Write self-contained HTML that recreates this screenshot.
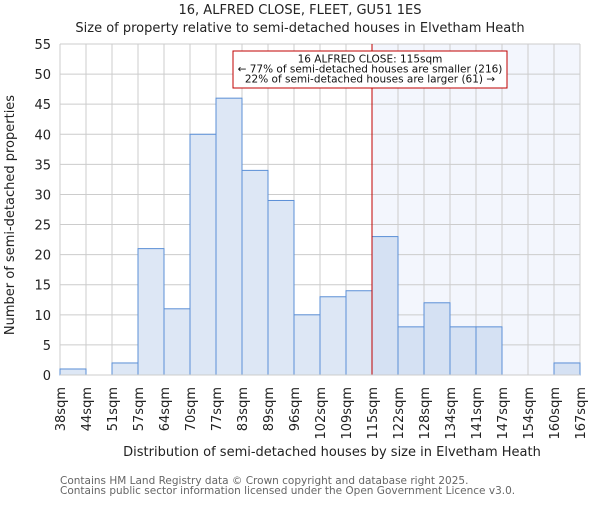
<!DOCTYPE html>
<html><head><meta charset="utf-8"><style>
body{margin:0;background:#fff;}
svg{font-family:"DejaVu Sans","Liberation Sans",sans-serif;}
</style></head><body>
<svg id="c" width="600" height="500" xmlns="http://www.w3.org/2000/svg"></svg>
<script>
const categories=["38sqm","44sqm","51sqm","57sqm","64sqm","70sqm","77sqm","83sqm","89sqm","96sqm","102sqm","109sqm","115sqm","122sqm","128sqm","134sqm","141sqm","147sqm","154sqm","160sqm","167sqm"];
const counts=[1,0,2,21,11,40,46,34,29,10,13,14,23,8,12,8,8,0,0,2];
const yTicks=[0,5,10,15,20,25,30,35,40,45,50,55];
const markerIndex=12;
const svg=document.getElementById('c');const NS="http://www.w3.org/2000/svg";
const L=60,R=580,T=44,B=375,yMax=55,n=counts.length;
const bw=(R-L)/n;
const xs=i=>L+i*bw, ys=v=>B-(v/yMax)*(B-T);
function el(t,a,p){const e=document.createElementNS(NS,t);for(const k in a)e.setAttribute(k,a[k]);(p||svg).appendChild(e);return e;}
function txt(s,a){const e=el('text',a);e.textContent=s;return e;}
let h=el('rect',{x:xs(markerIndex),y:T,width:R-xs(markerIndex),height:B-T,fill:'#f3f6fd'});

yTicks.forEach(v=>{let g=el('line',{x1:L,x2:R,y1:ys(v),y2:ys(v),stroke:'#cccccc','stroke-width':1});
let t=txt(v,{x:L-9,y:ys(v)+5,'text-anchor':'end','font-size':13,fill:'#222'});});
categories.forEach((c,i)=>{let g=el('line',{x1:xs(i),x2:xs(i),y1:T,y2:B,stroke:'#cccccc','stroke-width':1});
const x=xs(i);let t=txt(c,{transform:`translate(${x+5},${B+12}) rotate(-90)`,'text-anchor':'end','font-size':13,fill:'#222'});});
counts.forEach((v,i)=>{if(v<=0)return;let r=el('rect',{x:xs(i),y:ys(v),width:bw,height:B-ys(v),fill:i>=markerIndex?'#d5e1f3':'#dde7f5',stroke:'#5b8fd6','stroke-width':1});});
let m=el('line',{x1:xs(markerIndex),x2:xs(markerIndex),y1:T,y2:B,stroke:'#c00000','stroke-width':1});
let bx=el('rect',{x:233,y:51,width:274,height:37,fill:'#fff',stroke:'#c00000','stroke-width':1});
[["16 ALFRED CLOSE: 115sqm",62],["← 77% of semi-detached houses are smaller (216)",72],["22% of semi-detached houses are larger (61) →",82]].forEach(a=>{let t=txt(a[0],{x:370,y:a[1]+0.5,'text-anchor':'middle','font-size':10.5,fill:'#111'});});
let ax=el('line',{x1:L,x2:R,y1:B,y2:B,stroke:'#cccccc'});
let t1=txt("16, ALFRED CLOSE, FLEET, GU51 1ES",{x:300,y:14,'text-anchor':'middle','font-size':13,fill:'#222'});
let t2=txt("Size of property relative to semi-detached houses in Elvetham Heath",{x:300,y:32,'text-anchor':'middle','font-size':13,fill:'#222'});
let yt=txt("Number of semi-detached properties",{transform:"translate(14,215) rotate(-90)",'text-anchor':'middle','font-size':13,fill:'#222'});
let xt=txt("Distribution of semi-detached houses by size in Elvetham Heath",{x:332,y:456,'text-anchor':'middle','font-size':13,fill:'#222'});
let f1=txt("Contains HM Land Registry data © Crown copyright and database right 2025.",{x:60,y:484,'font-size':10.5,fill:'#666'});
let f2=txt("Contains public sector information licensed under the Open Government Licence v3.0.",{x:60,y:494,'font-size':10.5,fill:'#666'});
</script>
</body></html>
